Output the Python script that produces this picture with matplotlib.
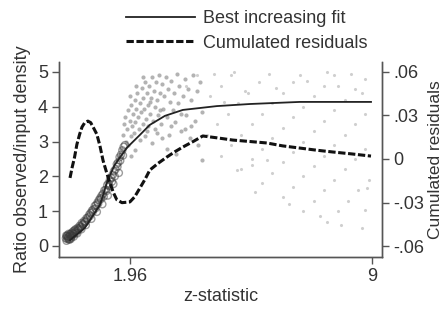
import numpy as np
import matplotlib
matplotlib.use("Agg")
import matplotlib.pyplot as plt

plt.rcParams["font.family"] = ["Liberation Sans", "DejaVu Sans"]

# ---- best increasing fit (left axis) ----
fit_z = [0.22, 0.65, 1.09, 1.32, 1.52, 1.87, 2.25, 2.54, 2.98, 3.50, 4.49, 5.45, 6.90, 8.97]
fit_y = [0.17, 0.52, 1.18, 1.90, 2.33, 2.82, 3.19, 3.48, 3.74, 3.91, 4.02, 4.08, 4.14, 4.14]

# ---- cumulated residuals (right axis) ----
res_z = [0.22, 0.28, 0.35, 0.42, 0.50, 0.57, 0.65, 0.74, 0.82, 0.89, 1.00, 1.09, 1.18, 1.28,
         1.38, 1.48, 1.58, 1.73, 1.96, 2.10, 2.25, 2.40, 2.54, 2.78, 3.04, 3.27, 3.50,
         3.80, 4.08, 4.50, 4.95, 5.45, 5.94, 6.40, 6.90, 7.40, 7.86, 8.40, 8.97]
res_r = [-0.013, -0.006, 0.001, 0.010, 0.017, 0.022, 0.025, 0.026, 0.025, 0.022, 0.017, 0.009,
         -0.001, -0.009, -0.0165, -0.023, -0.028, -0.030, -0.0295, -0.026, -0.020, -0.014,
         -0.0076, -0.003, 0.0014, 0.005, 0.0082, 0.012, 0.0158, 0.0145, 0.013, 0.012, 0.011,
         0.009, 0.0075, 0.006, 0.0048, 0.0035, 0.002]

# ---- observed/input ratio: dense low-z band ----
band_z = [0.10, 0.12, 0.14, 0.15, 0.17, 0.18, 0.20, 0.21, 0.23, 0.25, 0.27, 0.29, 0.31, 0.33,
          0.36, 0.38, 0.41, 0.44, 0.47, 0.50, 0.53, 0.56, 0.60, 0.63, 0.67, 0.70, 0.74, 0.78,
          0.82, 0.86, 0.90, 0.94, 0.98, 1.02, 1.06, 1.10, 1.14, 1.18, 1.22, 1.26, 1.30, 1.34,
          1.38, 1.42, 1.46, 1.50, 1.54, 1.58, 1.62, 1.66, 1.70, 1.74, 1.78, 1.82,
          0.13, 0.16, 0.19, 0.22, 0.26, 0.30, 0.35, 0.40, 0.46, 0.52, 0.58, 0.65, 0.72, 0.80,
          0.88, 0.96, 1.04, 1.12, 1.20, 1.28, 1.36, 1.44, 1.52, 1.60, 1.68, 1.76,
          0.11, 0.24, 0.33, 0.43, 0.55, 0.68, 0.84, 1.00, 1.16, 1.32, 1.48, 1.64]
band_y = [0.22, 0.15, 0.30, 0.20, 0.26, 0.35, 0.18, 0.28, 0.33, 0.24, 0.38, 0.30, 0.42, 0.35,
          0.40, 0.48, 0.44, 0.52, 0.50, 0.58, 0.55, 0.66, 0.62, 0.72, 0.70, 0.80, 0.82, 0.90,
          0.95, 1.02, 1.05, 1.15, 1.18, 1.25, 1.32, 1.38, 1.45, 1.50, 1.60, 1.62, 1.75, 1.80,
          1.90, 1.95, 2.05, 2.15, 2.20, 2.35, 2.40, 2.55, 2.62, 2.75, 2.85, 2.90,
          0.28, 0.24, 0.20, 0.34, 0.30, 0.36, 0.45, 0.38, 0.46, 0.52, 0.62, 0.68, 0.76, 0.86,
          0.98, 1.08, 1.22, 1.35, 1.42, 1.58, 1.72, 1.85, 2.00, 2.28, 2.45, 2.60,
          0.30, 0.20, 0.27, 0.36, 0.48, 0.60, 0.78, 0.98, 1.20, 1.45, 1.78, 2.10]

# ---- cloud above the fit, z ~ 1.7-4 ----
cloud_z = [1.75, 1.78, 1.82, 1.85, 1.88, 1.90, 1.92, 1.95, 1.98, 2.00, 2.02, 2.05, 2.08, 2.10,
           2.12, 2.15, 2.18, 2.20, 2.22, 2.25, 2.28, 2.30, 2.33, 2.35, 2.38, 2.40, 2.42, 2.45,
           2.48, 2.50, 2.52, 2.55, 2.58, 2.60, 2.62, 2.65, 2.68, 2.70, 2.72, 2.75, 2.78, 2.80,
           2.83, 2.86, 2.90, 2.93, 2.96, 3.00, 3.03, 3.06, 3.10, 3.13, 3.16, 3.20, 3.24, 3.28,
           3.32, 3.36, 3.40, 3.45, 3.50, 3.55, 3.60, 3.65, 3.70, 3.75, 3.80, 3.85, 3.90, 3.95,
           4.00, 4.05, 2.40, 2.60, 2.90, 3.05, 3.30, 2.10, 1.70, 1.65, 2.00, 3.55, 3.75, 4.05,
           2.15, 2.35, 2.55, 2.75, 1.95, 2.25, 2.45, 2.85, 3.15, 3.45]
cloud_y = [3.20, 3.50, 3.70, 3.00, 3.35, 3.90, 2.90, 3.60, 3.15, 4.05, 3.45, 3.80, 3.25, 4.20,
           3.55, 3.95, 4.40, 3.70, 3.35, 4.10, 3.85, 4.55, 3.50, 4.25, 3.95, 4.70, 3.65, 4.40,
           4.05, 3.45, 4.60, 3.80, 4.25, 4.85, 3.60, 4.45, 4.00, 3.35, 4.70, 4.20, 3.75, 4.90,
           4.40, 3.50, 4.65, 3.95, 4.30, 4.85, 3.70, 4.50, 3.20, 4.15, 4.75, 3.90, 4.40, 3.55,
           4.95, 4.10, 4.60, 3.30, 4.30, 4.80, 3.75, 4.50, 3.10, 4.20, 4.90, 3.60, 4.45, 2.90,
           4.70, 3.85, 3.15, 2.95, 3.10, 2.80, 2.65, 2.75, 2.80, 2.60, 2.60, 3.35, 3.45, 2.47,
           4.60, 4.85, 4.15, 3.25, 4.30, 3.05, 3.30, 3.90, 3.45, 3.80]

# ---- faint high-z points (diagonal stripes) ----
faint_z = [3.60, 3.90, 4.30, 4.60, 4.90, 4.20, 4.50, 4.80, 5.10, 5.40, 5.70,
           4.60, 4.90, 5.20, 5.50, 5.80, 6.10, 6.40, 6.70,
           5.20, 5.50, 5.80, 6.10, 6.40, 6.70, 7.00, 7.30, 7.60, 7.90,
           5.80, 6.10, 6.40, 6.70, 7.00, 7.30, 7.60, 7.90, 8.20, 8.50, 8.80,
           6.40, 6.70, 7.00, 7.30, 7.60, 7.90, 8.20, 8.50, 8.80,
           7.00, 7.30, 7.60, 7.90, 8.20, 8.50, 8.80, 7.70, 8.00, 8.30, 8.60, 8.90,
           8.70, 8.79, 8.85, 5.07, 5.50, 5.94, 4.40, 5.00, 6.00, 6.90, 7.70, 8.40,
           4.70, 5.30, 6.20, 7.10, 8.00, 8.70, 5.60, 6.60, 7.50, 8.10]
faint_y = [4.60, 4.90, 4.30, 4.60, 4.90, 3.20, 3.50, 3.80, 4.10, 4.40, 4.70,
           2.60, 2.90, 3.20, 3.50, 3.80, 4.10, 4.40, 4.70,
           2.20, 2.50, 2.80, 3.10, 3.40, 3.70, 4.00, 4.30, 4.60, 4.90,
           1.80, 2.10, 2.40, 2.70, 3.00, 3.30, 3.60, 3.90, 4.20, 4.50, 4.80,
           1.40, 1.70, 2.00, 2.30, 2.60, 2.90, 3.20, 3.50, 3.80,
           1.00, 1.30, 1.60, 1.90, 2.20, 2.50, 2.80, 0.70, 1.00, 1.30, 1.60, 1.90,
           0.52, 1.03, 1.67, 2.18, 2.33, 2.47, 4.95, 5.00, 4.95, 4.90, 5.00, 4.95,
           4.15, 4.45, 4.55, 4.75, 4.60, 4.40, 1.55, 1.20, 0.85, 0.60]

FS = 13
TXT = "#333333"

fig = plt.figure(figsize=(4.48, 3.10), dpi=100)
ax = fig.add_axes([0.1317, 0.171, 0.721, 0.629])
ax2 = ax.twinx()

ax.scatter(faint_z, faint_y, s=5, color="#a8a8a8", alpha=0.55, lw=0)
ax.scatter(cloud_z, cloud_y, s=9, color="#8a8a8a", alpha=0.65, lw=0)
ax.scatter(band_z, band_y, s=26, facecolor="none", edgecolor="#3a3a3a",
           alpha=0.5, lw=1.0)
fit_line, = ax.plot(fit_z, fit_y, color="#222222", lw=1.3)
res_line, = ax2.plot(res_z, res_r, color="#111111", lw=2.2, dashes=(2.4, 0.85))

ax.set_xlim(-0.10, 9.29)
ax.set_ylim(-0.316, 5.287)
ax2.set_ylim(-0.0673, 0.0666)

ax.set_xticks([1.96, 9])
ax.set_xticklabels(["1.96", "9"])
ax.set_yticks([0, 1, 2, 3, 4, 5])
ax2.set_yticks([-0.06, -0.03, 0, 0.03, 0.06])
ax2.set_yticklabels(["-.06", "-.03", "0", ".03", ".06"])

for a in (ax, ax2):
    a.spines["top"].set_visible(False)
    for s in ("left", "right", "bottom"):
        a.spines[s].set_color("#555555")
        a.spines[s].set_linewidth(1.0)
    a.tick_params(direction="out", length=5, width=1.0, color="#555555",
                  labelsize=FS, labelcolor=TXT, pad=3)

ax.set_xlabel("z-statistic", fontsize=FS, color=TXT, labelpad=2)
ax.set_ylabel("Ratio observed/input density", fontsize=FS, color=TXT, labelpad=5)
ax2.set_ylabel("Cumulated residuals", fontsize=12.5, color=TXT, labelpad=3)

fig.legend([fit_line, res_line], ["Best increasing fit", "Cumulated residuals"],
           loc="upper left", bbox_to_anchor=(0.265, 0.99), frameon=False,
           fontsize=FS, handlelength=3.8, handletextpad=0.45, labelspacing=0.4,
           borderaxespad=0.0, labelcolor=TXT)

fig.savefig("out.png", dpi=100)
